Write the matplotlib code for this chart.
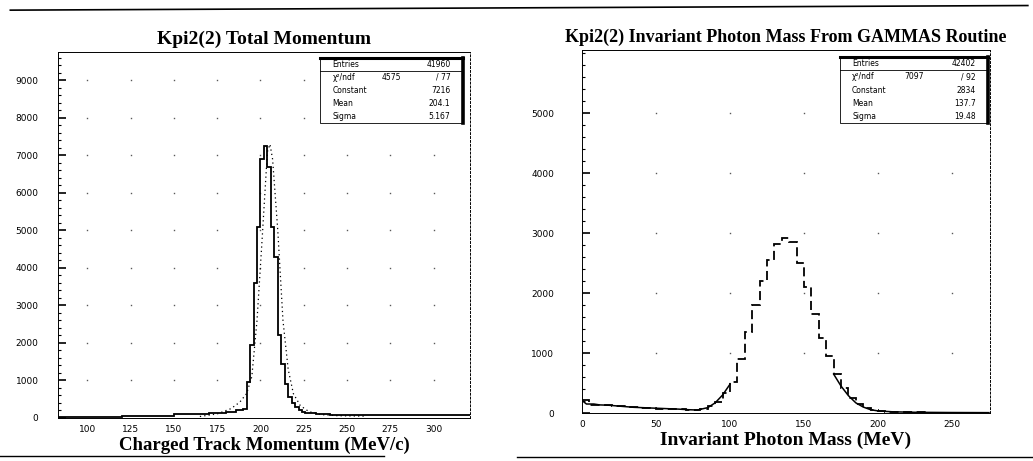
import numpy as np
import matplotlib
matplotlib.use("Agg")
import matplotlib.pyplot as plt
from matplotlib.patches import Rectangle

# ---- left: Kpi2(2) total momentum ----
left_edges = [83, 120, 150, 170, 180, 186, 190, 192, 194, 196, 198, 200, 202, 204, 206,
              208, 210, 212, 214, 216, 218, 220, 222, 224, 226, 228, 232, 240, 260, 290, 321]
left_counts = [25, 60, 100, 140, 170, 200, 250, 950, 1950, 3600, 5100, 6900, 7250, 6700,
               5100, 4300, 2200, 1450, 900, 550, 400, 300, 220, 160, 140, 120, 100, 90, 80, 80]
left_fit_x = [165, 175, 183, 188, 192, 195, 198, 201, 204, 205.5, 207, 210, 213, 216,
              219, 223, 228, 235, 245, 260]
left_fit_y = [40, 110, 250, 420, 650, 1100, 2600, 4800, 7100, 7300, 6900, 5000, 2600,
              1300, 650, 330, 170, 90, 60, 50]
left_xticks = [100, 125, 150, 175, 200, 225, 250, 275, 300]
left_yticks = [0, 1000, 2000, 3000, 4000, 5000, 6000, 7000, 8000, 9000]
left_stats = [("Entries", "", "41960"), ("χ²/ndf", "4575", "/ 77"),
              ("Constant", "", "7216"), ("Mean", "", "204.1"), ("Sigma", "", "5.167")]

# ---- right: invariant photon mass ----
right_edges = list(range(0, 280, 5))
right_counts = [210, 140, 135, 140, 120, 110, 100, 95, 85, 80, 75, 70, 70, 60, 55, 50,
                70, 110, 190, 330, 520, 900, 1350, 1800, 2200, 2550, 2820, 2920, 2850,
                2500, 2100, 1650, 1250, 950, 650, 420, 250, 150, 90, 55, 35, 25, 20, 15,
                12, 10, 10, 8, 8, 6, 6, 5, 5, 4, 4]
right_fit_x = [0, 3, 8, 12, 18, 25, 35, 45, 55, 65, 72, 78, 85, 90, 95, 100]
right_fit_y = [210, 150, 150, 135, 130, 115, 95, 85, 75, 65, 55, 50, 90, 170, 300, 480]
right_tail_x = [170, 175, 180, 185, 190, 195, 200, 210, 225, 250, 275]
right_tail_y = [650, 450, 290, 170, 100, 55, 35, 20, 12, 8, 6]
right_xticks = [0, 50, 100, 150, 200, 250]
right_yticks = [0, 1000, 2000, 3000, 4000, 5000]
right_stats = [("Entries", "", "42402"), ("χ²/ndf", "7097", "/ 92"),
               ("Constant", "", "2834"), ("Mean", "", "137.7"), ("Sigma", "", "19.48")]

serif = "Liberation Serif"

fig = plt.figure(figsize=(10.33, 4.61), dpi=100)
ax1 = fig.add_axes([0.0561, 0.0933, 0.3988, 0.794])
ax2 = fig.add_axes([0.5634, 0.1041, 0.395, 0.787])


def style_axes(ax, xlim, ylim, xticks, yticks, ypad):
    ax.set_xlim(*xlim)
    ax.set_ylim(*ylim)
    ax.set_xticks(xticks)
    ax.set_yticks(yticks)
    ax.set_yticks(np.arange(0, ylim[1], 200), minor=True)
    ax.tick_params(axis="y", which="major", direction="in", length=6, width=1.2,
                   labelsize=6.5, pad=ypad)
    ax.tick_params(axis="y", which="minor", direction="in", length=2.5, width=0.8)
    ax.tick_params(axis="x", which="major", direction="in", length=0, labelsize=6.5, pad=5)
    for s in ax.spines.values():
        s.set_linewidth(0.7)
    ax.spines["right"].set_linestyle((0, (2, 2)))
    # dotted grid: single dots at the tick crossings
    gx, gy = np.meshgrid(xticks, yticks[1:])
    ax.plot(gx.ravel(), gy.ravel(), ls="none", marker="s", ms=1.0, mew=0,
            color="0.35", zorder=1)


def stats_box(ax, x0, x1, y0, y1, rows):
    ax.add_patch(Rectangle((x0, y0), x1 - x0, y1 - y0, transform=ax.transAxes,
                           facecolor="white", edgecolor="black", lw=0.6, zorder=5))
    ax.plot([x0, x1], [y1, y1], transform=ax.transAxes, color="black", lw=2.2, zorder=6)
    ax.plot([x1, x1], [y0, y1], transform=ax.transAxes, color="black", lw=2.6, zorder=6)
    h = (y1 - y0) / len(rows)
    ax.plot([x0, x1], [y1 - h, y1 - h], transform=ax.transAxes, color="black", lw=0.6, zorder=6)
    for i, (name, mid, val) in enumerate(rows):
        yy = y1 - (i + 0.5) * h
        ax.text(x0 + 0.03, yy, name, transform=ax.transAxes, fontsize=5.5, va="center",
                ha="left", zorder=7)
        if mid:
            ax.text(x0 + 0.5 * (x1 - x0), yy, mid, transform=ax.transAxes, fontsize=5.5,
                    va="center", ha="center", zorder=7)
        ax.text(x1 - 0.03, yy, val, transform=ax.transAxes, fontsize=5.5, va="center",
                ha="right", zorder=7)


# left panel
style_axes(ax1, (83, 321), (0, 9760), left_xticks, left_yticks, 14)
ax1.stairs(left_counts, left_edges, baseline=None, color="black", lw=1.3, zorder=3)
ax1.plot(left_fit_x, left_fit_y, color="black", lw=0.9, ls=(0, (1, 2.5)), zorder=2)
ax1.set_title("Kpi2(2) Total Momentum", fontfamily=serif, fontweight="bold",
              fontsize=14, pad=6)
ax1.set_xlabel("Charged Track Momentum (MeV/c)", fontfamily=serif, fontweight="bold",
               fontsize=13.5, labelpad=2)
stats_box(ax1, 0.636, 0.983, 0.806, 0.984, left_stats)

# right panel
style_axes(ax2, (0, 275.7), (0, 6050), right_xticks, right_yticks, 20)
ax2.stairs(right_counts, right_edges, baseline=None, color="black", lw=1.3,
           ls=(0, (5, 2.5)), zorder=3)
ax2.plot(right_fit_x, right_fit_y, color="black", lw=1.1, zorder=2)
ax2.plot(right_tail_x, right_tail_y, color="black", lw=1.1, zorder=2)
ax2.set_title("Kpi2(2) Invariant Photon Mass From GAMMAS Routine", fontfamily=serif,
              fontweight="bold", fontsize=13, pad=6)
ax2.set_xlabel("Invariant Photon Mass (MeV)", fontfamily=serif, fontweight="bold",
               fontsize=14, labelpad=2)
stats_box(ax2, 0.632, 0.995, 0.799, 0.981, right_stats)

# page rules from the scan
fig.add_artist(plt.Line2D([0.01, 0.995], [0.978, 0.988], color="black", lw=1.2))
fig.add_artist(plt.Line2D([0.0, 0.372], [0.011, 0.011], color="black", lw=1.0))
fig.add_artist(plt.Line2D([0.5, 1.0], [0.008, 0.008], color="black", lw=1.0))

fig.savefig("out.png", dpi=100, facecolor="white")
